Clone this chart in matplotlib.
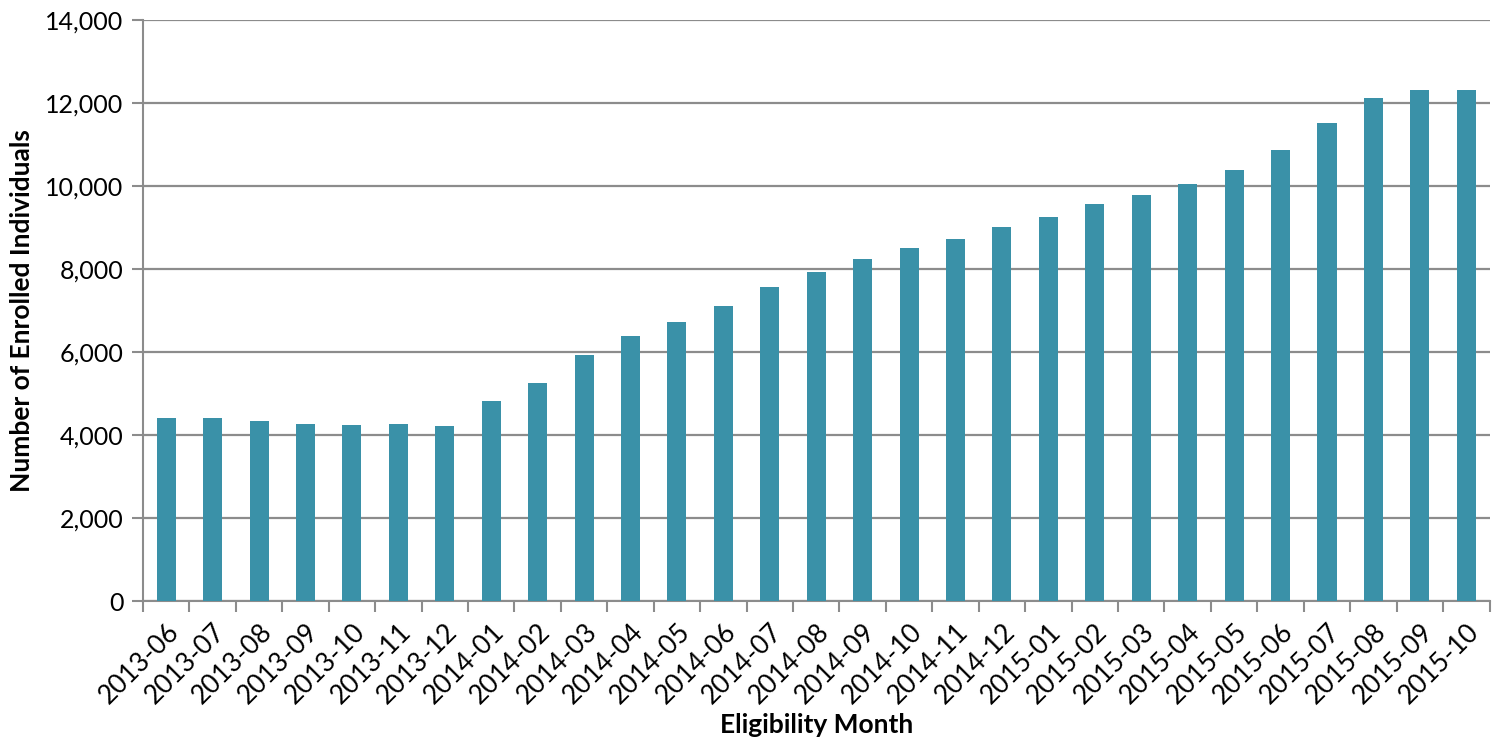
import numpy as np
import matplotlib.pyplot as plt

# Datos
months = ["2013-06", "2013-07", "2013-08", "2013-09", "2013-10", "2013-11", "2013-12",
          "2014-01", "2014-02", "2014-03", "2014-04", "2014-05", "2014-06", "2014-07",
          "2014-08", "2014-09", "2014-10", "2014-11", "2014-12", "2015-01", "2015-02",
          "2015-03", "2015-04", "2015-05", "2015-06", "2015-07", "2015-08", "2015-09",
          "2015-10"]
enrolled = [4410, 4410, 4337, 4265, 4240, 4265, 4217, 4819, 5253, 5928, 6386, 6723,
            7108, 7566, 7928, 8241, 8506, 8723, 9012, 9253, 9566, 9783, 10048, 10386,
            10867, 11518, 12120, 12313, 12313]
yticks = [0, 2000, 4000, 6000, 8000, 10000, 12000, 14000]

plt.rcParams['font.family'] = ['Lato', 'DejaVu Sans']

fig = plt.figure(figsize=(14.94, 7.4), dpi=100)
ax = fig.add_axes([0.0957, 0.1878, 0.9013, 0.7852])

x = np.arange(len(months))
ax.bar(x, enrolled, width=0.41, color='#3A91A8', zorder=3)

ax.set_xlim(-0.5, len(months) - 0.5)
ax.set_ylim(0, 14000)
ax.set_yticks(yticks)
ax.set_yticklabels([f"{v:,}" for v in yticks], fontsize=18)
ax.yaxis.grid(True, color='#8c8c8c', linewidth=1.6, zorder=0)

# ticks en los bordes de categoría, etiquetas en el centro
ax.set_xticks(np.arange(-0.5, len(months), 1.0))
ax.set_xticklabels([])
ax.set_xticks(x, minor=True)
ax.set_xticklabels(months, minor=True, rotation=45, ha='right', rotation_mode='anchor', fontsize=19)
ax.tick_params(axis='x', which='minor', length=0, pad=13)
ax.tick_params(axis='x', which='major', length=8, width=1.5, color='#8c8c8c', direction='out')
ax.tick_params(axis='y', length=8, width=1.5, color='#8c8c8c', direction='out', pad=6)

for s in ['top', 'right']:
    ax.spines[s].set_visible(False)
for s in ['left', 'bottom']:
    ax.spines[s].set_color('#8c8c8c')
    ax.spines[s].set_linewidth(1.5)

ax.set_xlabel("Eligibility Month", fontsize=19, fontweight='bold', labelpad=3)
ax.set_ylabel("Number of Enrolled Individuals", fontsize=19, fontweight='bold', labelpad=8)

fig.savefig("out.png", dpi=100)
